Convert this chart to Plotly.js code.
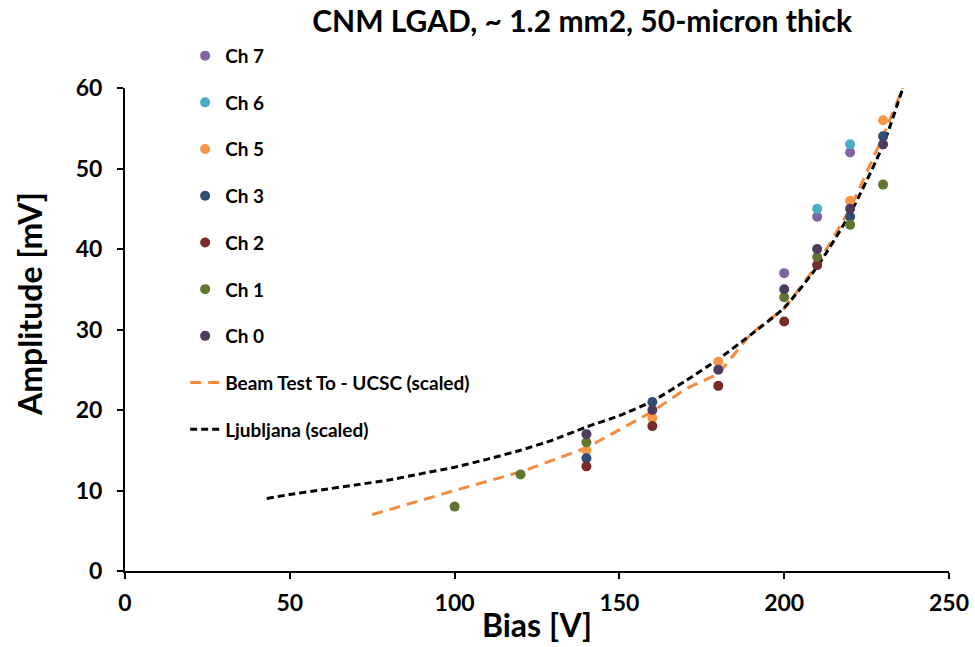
<!DOCTYPE html>
<html>
<head>
<meta charset="utf-8">
<script src="https://cdn.plot.ly/plotly-3.0.1.min.js"></script>
<style>html,body{margin:0;padding:0;background:#fff;}#chart{width:975px;height:647px;}</style>
</head>
<body>
<div id="chart"></div>
<script>
// Channel measurements: bias [V] and amplitude [mV]
const ch7Bias = [200, 210, 220];
const ch7Amp  = [37, 44, 52];
const ch6Bias = [210, 220];
const ch6Amp  = [45, 53];
const ch5Bias = [140, 160, 180, 220, 230];
const ch5Amp  = [15, 19, 26, 46, 56];
const ch3Bias = [140, 160, 220, 230];
const ch3Amp  = [14, 21, 44, 54];
const ch2Bias = [140, 160, 180, 200, 210];
const ch2Amp  = [13, 18, 23, 31, 38];
const ch1Bias = [100, 120, 140, 200, 210, 220, 230];
const ch1Amp  = [8, 12, 16, 34, 39, 43, 48];
const ch0Bias = [140, 160, 180, 200, 210, 220, 230];
const ch0Amp  = [17, 20, 25, 35, 40, 45, 53];

// Reference curves
const beamBias = [75, 100, 120, 140, 160, 170, 180, 190, 200, 210, 220, 230, 236];
const beamAmp  = [7, 10, 12.3, 15.3, 19.8, 22.6, 24.5, 29.5, 32.6, 38, 45, 54, 60];
const ljuBias  = [43, 50, 60, 70, 80, 90, 100, 110, 120, 130, 140, 150, 160, 170, 180, 190, 200, 210, 220, 230, 236];
const ljuAmp   = [9, 9.5, 10.1, 10.7, 11.3, 12.1, 12.9, 13.9, 15, 16.3, 17.9, 19.3, 21.1, 23.6, 26.3, 29.4, 32.7, 37.8, 44.4, 52.9, 60];

const xTicks = [0, 50, 100, 150, 200, 250];
const yTicks = [0, 10, 20, 30, 40, 50, 60];

const channels = [
  {name: 'Ch 7', x: ch7Bias, y: ch7Amp, color: '#8064A2'},
  {name: 'Ch 6', x: ch6Bias, y: ch6Amp, color: '#4BACC6'},
  {name: 'Ch 5', x: ch5Bias, y: ch5Amp, color: '#F79646'},
  {name: 'Ch 3', x: ch3Bias, y: ch3Amp, color: '#2C4D75'},
  {name: 'Ch 2', x: ch2Bias, y: ch2Amp, color: '#772C2A'},
  {name: 'Ch 1', x: ch1Bias, y: ch1Amp, color: '#5F7530'},
  {name: 'Ch 0', x: ch0Bias, y: ch0Amp, color: '#4D3B62'}
];

const FONT = 'Lato, "Open Sans", sans-serif';

const traces = [];
traces.push({
  x: beamBias, y: beamAmp, mode: 'lines', name: 'Beam Test To - UCSC (scaled)',
  line: {color: '#F58A3C', width: 3, dash: '11px,7px'}, legendgroup: 'g8', legendrank: 8
});
traces.push({
  x: ljuBias, y: ljuAmp, mode: 'lines', name: 'Ljubljana (scaled)',
  line: {shape: 'spline', smoothing: 0.6, color: '#000', width: 3, dash: '7px,4px'},
  legendgroup: 'g9', legendrank: 9
});
channels.forEach((c, i) => {
  traces.push({
    x: c.x, y: c.y, mode: 'markers', name: c.name,
    marker: {color: c.color, size: 10},
    legendgroup: 'g' + i, legendrank: i + 1
  });
});

const layout = {
  width: 975, height: 647,
  margin: {l: 125, r: 26, t: 88, b: 76},
  paper_bgcolor: '#fff', plot_bgcolor: '#fff',
  font: {family: FONT, color: '#000'},
  title: {
    text: '<b>CNM LGAD, ~ 1.2 mm2, 50-micron thick</b>',
    font: {family: FONT, size: 30, color: '#000'},
    x: 0.597, xanchor: 'center', xref: 'container',
    y: 0.966, yanchor: 'middle', yref: 'container'
  },
  xaxis: {
    range: [0, 250], tickvals: xTicks,
    showgrid: false, zeroline: false,
    showline: true, linecolor: '#000', linewidth: 2,
    ticks: 'outside', ticklen: 6, tickwidth: 2, tickcolor: '#000',
    ticklabelstandoff: 4,
    tickfont: {family: FONT, size: 23, color: '#000', weight: 'bold'},
    title: {text: '<b>Bias [V]</b>', font: {family: FONT, size: 32, color: '#000'}, standoff: 0}
  },
  yaxis: {
    range: [0, 60], tickvals: yTicks,
    showgrid: false, zeroline: false,
    showline: true, linecolor: '#000', linewidth: 2,
    ticks: 'outside', ticklen: 6, tickwidth: 2, tickcolor: '#000',
    ticklabelstandoff: 10,
    tickfont: {family: FONT, size: 23, color: '#000', weight: 'bold'}
  },
  annotations: [{
    text: '<b>Amplitude [mV]</b>', textangle: -90,
    xref: 'paper', yref: 'paper', x: -0.1153, y: 0.553,
    xanchor: 'center', yanchor: 'middle', showarrow: false,
    font: {family: FONT, size: 32, color: '#000'}
  }],
  showlegend: true,
  legend: {
    x: 0.073, xanchor: 'left', y: 1.106, yanchor: 'top',
    bgcolor: 'rgba(0,0,0,0)', borderwidth: 0,
    font: {family: FONT, size: 19, color: '#000', weight: 'bold'},
    traceorder: 'grouped', tracegroupgap: 19, itemwidth: 30, maxheight: 640
  }
};

Plotly.newPlot('chart', traces, layout, {staticPlot: true});
</script>
</body>
</html>
